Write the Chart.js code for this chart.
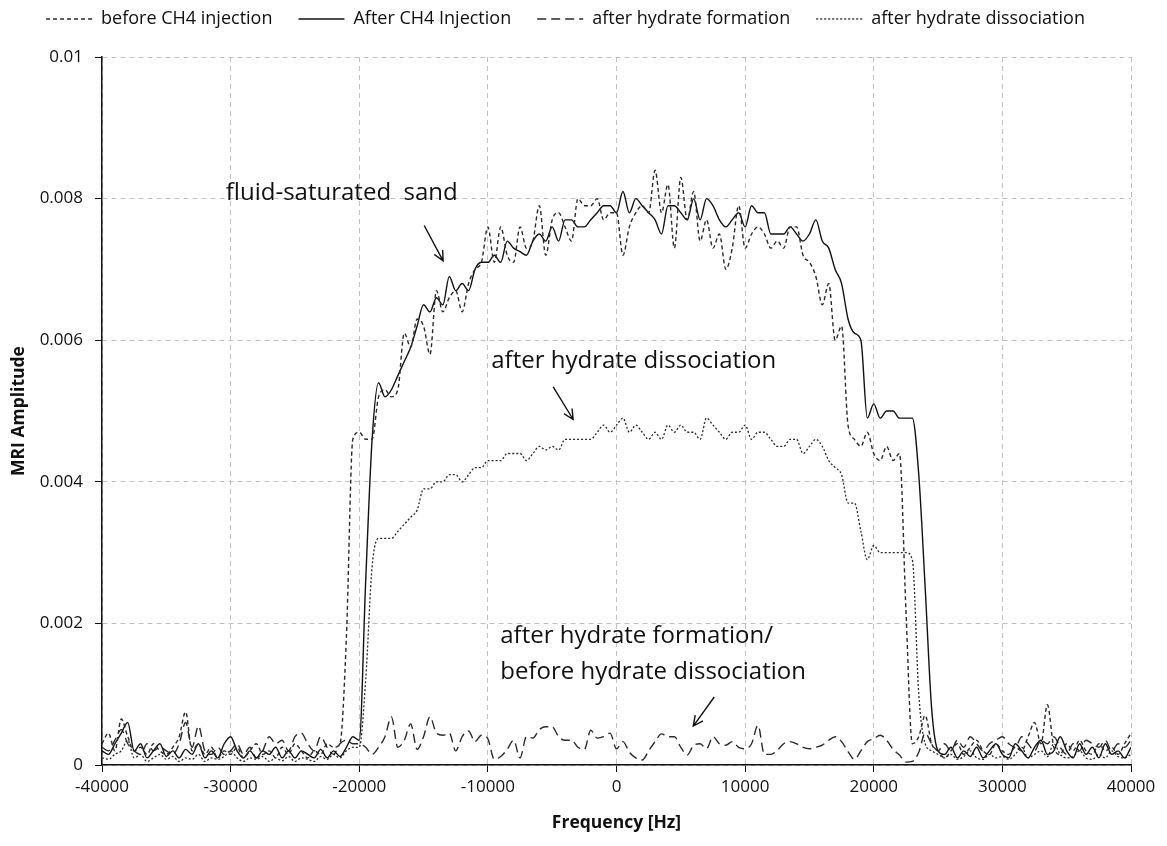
<!DOCTYPE html>
<html>
<head>
<meta charset="utf-8">
<script src="https://cdn.jsdelivr.net/npm/chart.js@4.4.1/dist/chart.umd.min.js"></script>
<style>
  html, body { margin: 0; padding: 0; background: #fff; }
  #wrap { width: 1167px; height: 846px; position: relative; }
</style>
</head>
<body>
<div id="wrap"><canvas id="mriChart"></canvas></div>
<script>
// frequency axis [Hz], one value every 500 Hz
const freq = [
  -40000, -39500, -39000, -38500, -38000, -37500, -37000, -36500, -36000, -35500,
  -35000, -34500, -34000, -33500, -33000, -32500, -32000, -31500, -31000, -30500,
  -30000, -29500, -29000, -28500, -28000, -27500, -27000, -26500, -26000, -25500,
  -25000, -24500, -24000, -23500, -23000, -22500, -22000, -21500, -21000, -20500,
  -20000, -19500, -19000, -18500, -18000, -17500, -17000, -16500, -16000, -15500,
  -15000, -14500, -14000, -13500, -13000, -12500, -12000, -11500, -11000, -10500,
  -10000, -9500, -9000, -8500, -8000, -7500, -7000, -6500, -6000, -5500,
  -5000, -4500, -4000, -3500, -3000, -2500, -2000, -1500, -1000, -500,
  0, 500, 1000, 1500, 2000, 2500, 3000, 3500, 4000, 4500,
  5000, 5500, 6000, 6500, 7000, 7500, 8000, 8500, 9000, 9500,
  10000, 10500, 11000, 11500, 12000, 12500, 13000, 13500, 14000, 14500,
  15000, 15500, 16000, 16500, 17000, 17500, 18000, 18500, 19000, 19500,
  20000, 20500, 21000, 21500, 22000, 22500, 23000, 23500, 24000, 24500,
  25000, 25500, 26000, 26500, 27000, 27500, 28000, 28500, 29000, 29500,
  30000, 30500, 31000, 31500, 32000, 32500, 33000, 33500, 34000, 34500,
  35000, 35500, 36000, 36500, 37000, 37500, 38000, 38500, 39000, 39500,
  40000
];

const beforeCH4 = [
  0.00030, 0.00045, 0.00020, 0.00065, 0.00040, 0.00020, 0.00025, 0.00015, 0.00030, 0.00020,
  0.00015, 0.00025, 0.00040, 0.00075, 0.00020, 0.00030, 0.00015, 0.00025, 0.00010, 0.00020,
  0.00015, 0.00025, 0.00010, 0.00020, 0.00030, 0.00015, 0.00020, 0.00010, 0.00025, 0.00015,
  0.00030, 0.00020, 0.00010, 0.00020, 0.00015, 0.00030, 0.00025, 0.00030, 0.0018, 0.0046,
  0.0047, 0.0046, 0.0046, 0.0052, 0.0053, 0.0052, 0.0053, 0.0061, 0.0059, 0.0063,
  0.0062, 0.0058, 0.0067, 0.0064, 0.0066, 0.0067, 0.0064, 0.0068, 0.0070, 0.0071,
  0.0076, 0.0071, 0.0076, 0.0072, 0.0071, 0.0076, 0.0073, 0.0074, 0.0079, 0.0072,
  0.0077, 0.0078, 0.0076, 0.0074, 0.0080, 0.0079, 0.0079, 0.0080, 0.0077, 0.0078,
  0.0078, 0.0072, 0.0076, 0.0078, 0.0079, 0.0078, 0.0084, 0.0078, 0.0082, 0.0073,
  0.0083, 0.0077, 0.0081, 0.0074, 0.0077, 0.0073, 0.0075, 0.0070, 0.0073, 0.0079,
  0.0073, 0.0075, 0.0076, 0.0075, 0.0073, 0.0074, 0.0073, 0.0076, 0.0076, 0.0072,
  0.0071, 0.0069, 0.0065, 0.0068, 0.0060, 0.0062, 0.0048, 0.0046, 0.0045, 0.0047,
  0.0044, 0.0043, 0.0045, 0.0043, 0.0044, 0.0022, 0.0003, 0.0004, 0.0007, 0.0003,
  0.0002, 0.00010, 0.00020, 0.00030, 0.00015, 0.00025, 0.00035, 0.00020, 0.00015, 0.00030,
  0.00020, 0.00015, 0.00025, 0.00020, 0.00040, 0.00060, 0.00030, 0.00085, 0.00025, 0.00015,
  0.00030, 0.00020, 0.00035, 0.00020, 0.00015, 0.00030, 0.00020, 0.00025, 0.00015, 0.00030,
  0.00045
];

const afterCH4 = [
  0.00020, 0.00015, 0.00030, 0.00045, 0.00060, 0.00020, 0.00030, 0.00010, 0.00020, 0.00030,
  0.00012, 0.00020, 0.00010, 0.00022, 0.00015, 0.00030, 0.00010, 0.00020, 0.00010, 0.00030,
  0.00040, 0.00020, 0.00010, 0.00020, 0.00010, 0.00020, 0.00015, 0.00025, 0.00010, 0.00020,
  0.00010, 0.00020, 0.00015, 0.00010, 0.00022, 0.00010, 0.00020, 0.00012, 0.00025, 0.00040,
  0.00035, 0.0026, 0.0046, 0.0054, 0.0052, 0.0053, 0.0055, 0.0057, 0.0059, 0.0062,
  0.0065, 0.0064, 0.0066, 0.0065, 0.0069, 0.0067, 0.0068, 0.0067, 0.0070, 0.0071,
  0.0071, 0.0072, 0.0071, 0.0074, 0.0073, 0.00725, 0.0072, 0.0074, 0.0075, 0.0074,
  0.0076, 0.0074, 0.0077, 0.0077, 0.0076, 0.0076, 0.0077, 0.0078, 0.0079, 0.0079,
  0.0078, 0.0081, 0.0078, 0.0080, 0.0079, 0.0078, 0.0077, 0.0075, 0.0079, 0.0079,
  0.0078, 0.0077, 0.0080, 0.0077, 0.0080, 0.0079, 0.0077, 0.0076, 0.0077, 0.0078,
  0.0076, 0.0079, 0.0078, 0.0078, 0.0075, 0.0075, 0.0075, 0.0076, 0.0075, 0.0074,
  0.0075, 0.0077, 0.0074, 0.0073, 0.0070, 0.0068, 0.0063, 0.0061, 0.0060, 0.0049,
  0.0051, 0.0049, 0.0050, 0.0050, 0.0049, 0.0049, 0.0049, 0.0041, 0.0025, 0.0008,
  0.0002, 0.00015, 0.00025, 0.00010, 0.00020, 0.00012, 0.00025, 0.00010, 0.00020, 0.00030,
  0.00015, 0.00010, 0.00030, 0.00020, 0.00010, 0.00025, 0.00035, 0.00015, 0.00020, 0.00040,
  0.00020, 0.00010, 0.00030, 0.00015, 0.00025, 0.00010, 0.00030, 0.00015, 0.00020, 0.00010,
  0.00025
];

const afterFormation = [
  0.00025, 0.00020, 0.00035, 0.00050, 0.00030, 0.00020, 0.00015, 0.00030, 0.00020, 0.00025,
  0.00020, 0.00015, 0.00030, 0.00060, 0.00025, 0.00055, 0.00020, 0.00015, 0.00025, 0.00015,
  0.00020, 0.00030, 0.00015, 0.00025, 0.00010, 0.00020, 0.00040, 0.00030, 0.00035, 0.00020,
  0.00040, 0.00045, 0.00030, 0.00020, 0.00040, 0.00025, 0.00015, 0.00030, 0.00035, 0.00030,
  0.00030, 0.00025, 0.00015, 0.00025, 0.00040, 0.00068, 0.00025, 0.00035, 0.00058, 0.00022,
  0.00040, 0.00068, 0.00045, 0.00042, 0.00045, 0.00020, 0.00040, 0.00048, 0.00033, 0.00042,
  0.00037, 0.00008, 0.00012, 0.00022, 0.00035, 0.00010, 0.00040, 0.00038, 0.00050, 0.00054,
  0.00054, 0.00040, 0.00035, 0.00035, 0.00025, 0.00022, 0.00049, 0.00038, 0.00040, 0.00045,
  0.00023, 0.00033, 0.00018, 0.00010, 0.00007, 0.00020, 0.00033, 0.00044, 0.00040, 0.00040,
  0.00025, 0.00014, 0.00028, 0.00030, 0.00023, 0.00040, 0.00030, 0.00028, 0.00033, 0.00025,
  0.00023, 0.00030, 0.00056, 0.00015, 0.00015, 0.00021, 0.00030, 0.00033, 0.00030, 0.00025,
  0.00023, 0.00025, 0.00028, 0.00035, 0.00040, 0.00033, 0.00019, 0.00008, 0.00020, 0.00033,
  0.00037, 0.00042, 0.00035, 0.00022, 0.00014, 0.00004, 0.00005, 0.00018, 0.00045, 0.00030,
  0.00020, 0.00030, 0.00020, 0.00035, 0.00025, 0.00040, 0.00030, 0.00020, 0.00030, 0.00035,
  0.00040, 0.00030, 0.00025, 0.00040, 0.00030, 0.00020, 0.00035, 0.00030, 0.00040, 0.00025,
  0.00015, 0.00030, 0.00020, 0.00035, 0.00030, 0.00025, 0.00035, 0.00020, 0.00030, 0.00025,
  0.00035
];

const afterDissociation = [
  0.00010, 0.00008, 0.00015, 0.00020, 0.00035, 0.00010, 0.00015, 0.00005, 0.00010, 0.00015,
  0.00008, 0.00012, 0.00005, 0.00010, 0.00008, 0.00015, 0.00005, 0.00010, 0.00008, 0.00012,
  0.00020, 0.00010, 0.00005, 0.00010, 0.00008, 0.00012, 0.00005, 0.00010, 0.00006, 0.00012,
  0.00005, 0.00010, 0.00008, 0.00005, 0.00012, 0.00008, 0.00015, 0.00010, 0.00020, 0.00025,
  0.00025, 0.0012, 0.0028, 0.0032, 0.0032, 0.0032, 0.0033, 0.0034, 0.0035, 0.0036,
  0.0039, 0.0039, 0.0040, 0.0040, 0.0041, 0.0041, 0.0040, 0.0041, 0.0042, 0.0042,
  0.0043, 0.0043, 0.0043, 0.0044, 0.0044, 0.0044, 0.0043, 0.0044, 0.0045, 0.00445,
  0.0045, 0.00445, 0.0046, 0.0046, 0.0046, 0.0046, 0.0046, 0.0047, 0.0048, 0.0047,
  0.0048, 0.0049, 0.0047, 0.0048, 0.0047, 0.0046, 0.0047, 0.0046, 0.0048, 0.0047,
  0.0048, 0.0047, 0.0047, 0.0046, 0.0049, 0.0048, 0.0047, 0.0046, 0.0047, 0.0047,
  0.0048, 0.0046, 0.0047, 0.0047, 0.0046, 0.0045, 0.0045, 0.0046, 0.0046, 0.0044,
  0.0045, 0.0046, 0.0045, 0.0043, 0.0042, 0.0041, 0.0037, 0.0037, 0.0033, 0.0029,
  0.0031, 0.0030, 0.0030, 0.0030, 0.0030, 0.0030, 0.0029, 0.0010, 0.0003, 0.0002,
  0.00015, 0.00010, 0.00015, 0.00008, 0.00012, 0.00020, 0.00010, 0.00008, 0.00015, 0.00010,
  0.00012, 0.00008, 0.00015, 0.00025, 0.00010, 0.00015, 0.00020, 0.00012, 0.00030, 0.00015,
  0.00010, 0.00012, 0.00020, 0.00010, 0.00008, 0.00015, 0.00010, 0.00020, 0.00012, 0.00010,
  0.00015
];

// text labels with arrows, in data units (Hz, amplitude)
const noteTexts = ["fluid-saturated  sand", "after hydrate dissociation", "after hydrate formation/", "before hydrate dissociation"];
const notePos = [[-30370, 0.00808], [-9740, 0.00571], [-9040, 0.00182], [-9040, 0.00131]];
const arrows = [
  [-14950, 0.00762, -13480, 0.00712],
  [-4920, 0.00534, -3370, 0.00488],
  [7600, 0.00096, 5970, 0.00055]
];

const FONT = "'Open Sans', 'Noto Sans', sans-serif";

function pts(arr) {
  return freq.map((f, i) => ({ x: f, y: arr[i] }));
}

const notesPlugin = {
  id: 'notes',
  beforeInit(chart) {
    // leave room between the legend and the top of the plot
    const fit = chart.legend.fit;
    chart.legend.fit = function () {
      fit.call(this);
      this.height += 19;
    };
  },
  afterDatasetsDraw(chart) {
    const { ctx, scales: { x, y } } = chart;
    ctx.save();
    ctx.fillStyle = '#111';
    ctx.font = "24px " + FONT;
    ctx.textBaseline = 'middle';
    ctx.textAlign = 'left';
    noteTexts.forEach((t, i) => {
      ctx.fillText(t, x.getPixelForValue(notePos[i][0]), y.getPixelForValue(notePos[i][1]));
    });
    ctx.strokeStyle = '#111';
    ctx.lineWidth = 1.4;
    arrows.forEach(a => {
      const x1 = x.getPixelForValue(a[0]), y1 = y.getPixelForValue(a[1]);
      const x2 = x.getPixelForValue(a[2]), y2 = y.getPixelForValue(a[3]);
      const ang = Math.atan2(y2 - y1, x2 - x1);
      ctx.beginPath();
      ctx.moveTo(x1, y1);
      ctx.lineTo(x2, y2);
      ctx.moveTo(x2 - 11 * Math.cos(ang - 0.45), y2 - 11 * Math.sin(ang - 0.45));
      ctx.lineTo(x2, y2);
      ctx.lineTo(x2 - 11 * Math.cos(ang + 0.45), y2 - 11 * Math.sin(ang + 0.45));
      ctx.stroke();
    });
    ctx.restore();
  }
};

const lineBase = {
  pointRadius: 0,
  borderWidth: 1.4,
  backgroundColor: 'transparent',
  fill: false,
  pointStyle: 'line',
  cubicInterpolationMode: 'monotone'
};

new Chart(document.getElementById('mriChart'), {
  type: 'line',
  data: {
    datasets: [
      Object.assign({}, lineBase, { label: 'before CH4 injection', data: pts(beforeCH4), borderColor: '#2a2a2a', borderDash: [4, 3] }),
      Object.assign({}, lineBase, { label: 'After CH4 Injection', data: pts(afterCH4), borderColor: '#111' }),
      Object.assign({}, lineBase, { label: 'after hydrate formation', data: pts(afterFormation), borderColor: '#2a2a2a', borderDash: [9, 5] }),
      Object.assign({}, lineBase, { label: 'after hydrate dissociation', data: pts(afterDissociation), borderColor: '#2a2a2a', borderDash: [2, 2], borderWidth: 1.3 })
    ]
  },
  options: {
    responsive: true,
    maintainAspectRatio: false,
    animation: false,
    layout: { padding: { top: -16, right: 36, left: 0, bottom: 0 } },
    plugins: {
      legend: {
        position: 'top',
        labels: {
          font: { family: FONT, size: 18 },
          color: '#111',
          usePointStyle: true,
          pointStyle: 'line',
          pointStyleWidth: 46,
          boxHeight: 10,
          padding: 26,
          generateLabels(chart) {
            const items = Chart.defaults.plugins.legend.labels.generateLabels(chart);
            items.forEach((it, i) => {
              const ds = chart.data.datasets[i];
              it.lineDash = ds.borderDash || [];
              it.lineWidth = 1.4;
              it.strokeStyle = ds.borderColor;
            });
            return items;
          }
        }
      },
      tooltip: { enabled: false }
    },
    scales: {
      x: {
        type: 'linear',
        min: -40000,
        max: 40000,
        afterFit(s) { s.height = 81; },
        ticks: {
          stepSize: 10000,
          color: '#111',
          padding: 5,
          font: { family: FONT, size: 17 },
          callback: v => String(v)
        },
        grid: { color: '#c0c0c0', lineWidth: 1, tickColor: '#111', tickLength: 7 },
        border: { display: true, color: '#111', width: 1.5, dash: [5, 4] },
        title: {
          display: true,
          text: 'Frequency [Hz]',
          color: '#111',
          font: { family: FONT, size: 17.5, weight: 'bold' },
          padding: { top: 0, bottom: 12 }
        }
      },
      y: {
        min: 0,
        max: 0.01,
        afterFit(s) { s.width = 102; },
        ticks: {
          stepSize: 0.002,
          color: '#111',
          padding: 12,
          font: { family: FONT, size: 17 },
          callback: v => String(+v.toFixed(4))
        },
        grid: { color: '#c0c0c0', lineWidth: 1, tickColor: '#111', tickLength: 7 },
        border: { display: true, color: '#111', width: 1.5, dash: [5, 4] },
        title: {
          display: true,
          text: 'MRI Amplitude',
          color: '#111',
          font: { family: FONT, size: 17.5, weight: 'bold' },
          padding: { top: 9, bottom: 0 }
        }
      }
    }
  },
  plugins: [notesPlugin]
});
</script>
</body>
</html>
